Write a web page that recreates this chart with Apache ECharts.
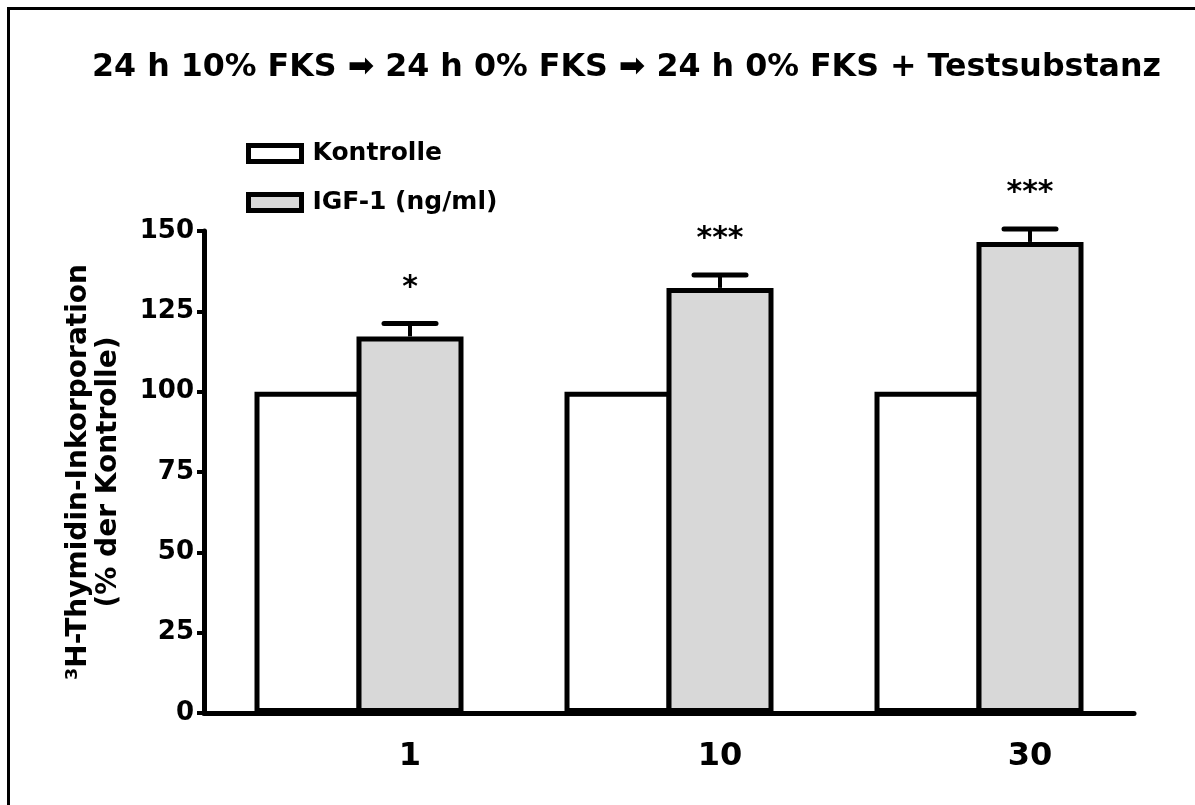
<!DOCTYPE html>
<html>
<head>
<meta charset="utf-8">
<script src="https://cdn.jsdelivr.net/npm/echarts@6/dist/echarts.min.js"></script>
<style>html,body{margin:0;padding:0;background:#fff}#c{width:1195px;height:805px}</style>
</head>
<body>
<div id="c"></div>
<script>
var titleText = '24 h 10% FKS \u27A1 24 h 0% FKS \u27A1 24 h 0% FKS + Testsubstanz';
var categories = ['1', '10', '30'];
var kontrolleValues = [100, 100, 100];
var igfValues = [117.2, 132.3, 146.6];
var igfErrors = [4, 4, 4];
var significance = ['*', '***', '***'];
var yTicks = [0, 25, 50, 75, 100, 125, 150];
var seriesNames = ['Kontrolle', 'IGF-1 (ng/ml)'];
var yAxisName = '\u00B3H-Thymidin-Inkorporation\n(% der Kontrolle)';

var FONT = '"DejaVu Sans", "Liberation Sans", sans-serif';
var BAR_W = 107;
var BORDER = 5;
var VIS_W = BAR_W - BORDER;

var errData = categories.map(function (c, i) {
  return [i, igfValues[i], igfErrors[i]];
});

var chart = echarts.init(document.getElementById('c'), null, {renderer: 'canvas'});
chart.setOption({
  animation: false,
  backgroundColor: '#fff',
  title: {
    text: titleText,
    left: 87,
    top: 47,
    textStyle: {fontFamily: FONT, fontWeight: 'bold', fontSize: 31.7, color: '#000'}
  },
  graphic: [{
    type: 'rect',
    shape: {x: 8.5, y: 8.5, width: 1400, height: 1000},
    style: {fill: null, stroke: '#000', lineWidth: 3},
    silent: true
  }],
  legend: {
    orient: 'vertical',
    left: 241,
    top: 136,
    itemWidth: 53,
    itemHeight: 16,
    itemGap: 24,
    icon: 'rect',
    data: seriesNames,
    itemStyle: {borderWidth: 5, borderColor: '#000'},
    textStyle: {fontFamily: FONT, fontWeight: 'bold', fontSize: 25, color: '#000', padding: [0, 0, 0, 6]}
  },
  grid: {left: 204, right: 61, top: 231, bottom: 92, containLabel: false},
  xAxis: {
    type: 'category',
    data: categories,
    axisLine: {lineStyle: {color: '#000', width: 5}},
    axisTick: {show: false},
    axisLabel: {fontFamily: FONT, fontWeight: 'bold', fontSize: 32, color: '#000', margin: 28, padding: [0, 0, 0, VIS_W]}
  },
  yAxis: {
    type: 'value',
    min: yTicks[0],
    max: yTicks[yTicks.length - 1],
    interval: yTicks[1] - yTicks[0],
    name: yAxisName,
    nameLocation: 'middle',
    nameRotate: 90,
    nameGap: 80,
    nameTextStyle: {fontFamily: FONT, fontWeight: 'bold', fontSize: 28, color: '#000', lineHeight: 30, align: 'center'},
    splitLine: {show: false},
    axisLine: {show: true, lineStyle: {color: '#000', width: 5}},
    axisTick: {show: true, length: 7, lineStyle: {color: '#000', width: 4}},
    axisLabel: {fontFamily: FONT, fontWeight: 'bold', fontSize: 26, color: '#000', margin: 10}
  },
  series: [{
    name: seriesNames[0],
    type: 'bar',
    data: kontrolleValues,
    barWidth: BAR_W,
    barGap: (-BORDER / BAR_W * 100) + '%',
    itemStyle: {color: '#ffffff', borderColor: '#000', borderWidth: BORDER}
  }, {
    name: seriesNames[1],
    type: 'bar',
    data: igfValues,
    barWidth: BAR_W,
    barGap: (-BORDER / BAR_W * 100) + '%',
    itemStyle: {color: '#d8d8d8', borderColor: '#000', borderWidth: BORDER}
  }, {
    type: 'custom',
    data: errData,
    z: 1,
    renderItem: function (params, api) {
      var idx = api.value(0);
      var v = api.value(1);
      var e = api.value(2);
      var base = api.coord([idx, v]);
      var top = api.coord([idx, v + e]);
      var x = base[0] + VIS_W / 2;
      var starPt = api.coord([idx, v + e + 12]);
      return {
        type: 'group',
        children: [{
          type: 'line',
          shape: {x1: x, y1: base[1], x2: x, y2: top[1]},
          style: {stroke: '#000', lineWidth: 4}
        }, {
          type: 'line',
          shape: {x1: x - 26, y1: top[1], x2: x + 26, y2: top[1]},
          style: {stroke: '#000', lineWidth: 5, lineCap: 'round'}
        }, {
          type: 'text',
          style: {
            x: x, y: starPt[1] + 18,
            text: significance[idx],
            textAlign: 'center', textVerticalAlign: 'bottom',
            fontFamily: FONT, fontWeight: 'bold', fontSize: 30, fill: '#000'
          }
        }]
      };
    }
  }]
});
</script>
</body>
</html>
